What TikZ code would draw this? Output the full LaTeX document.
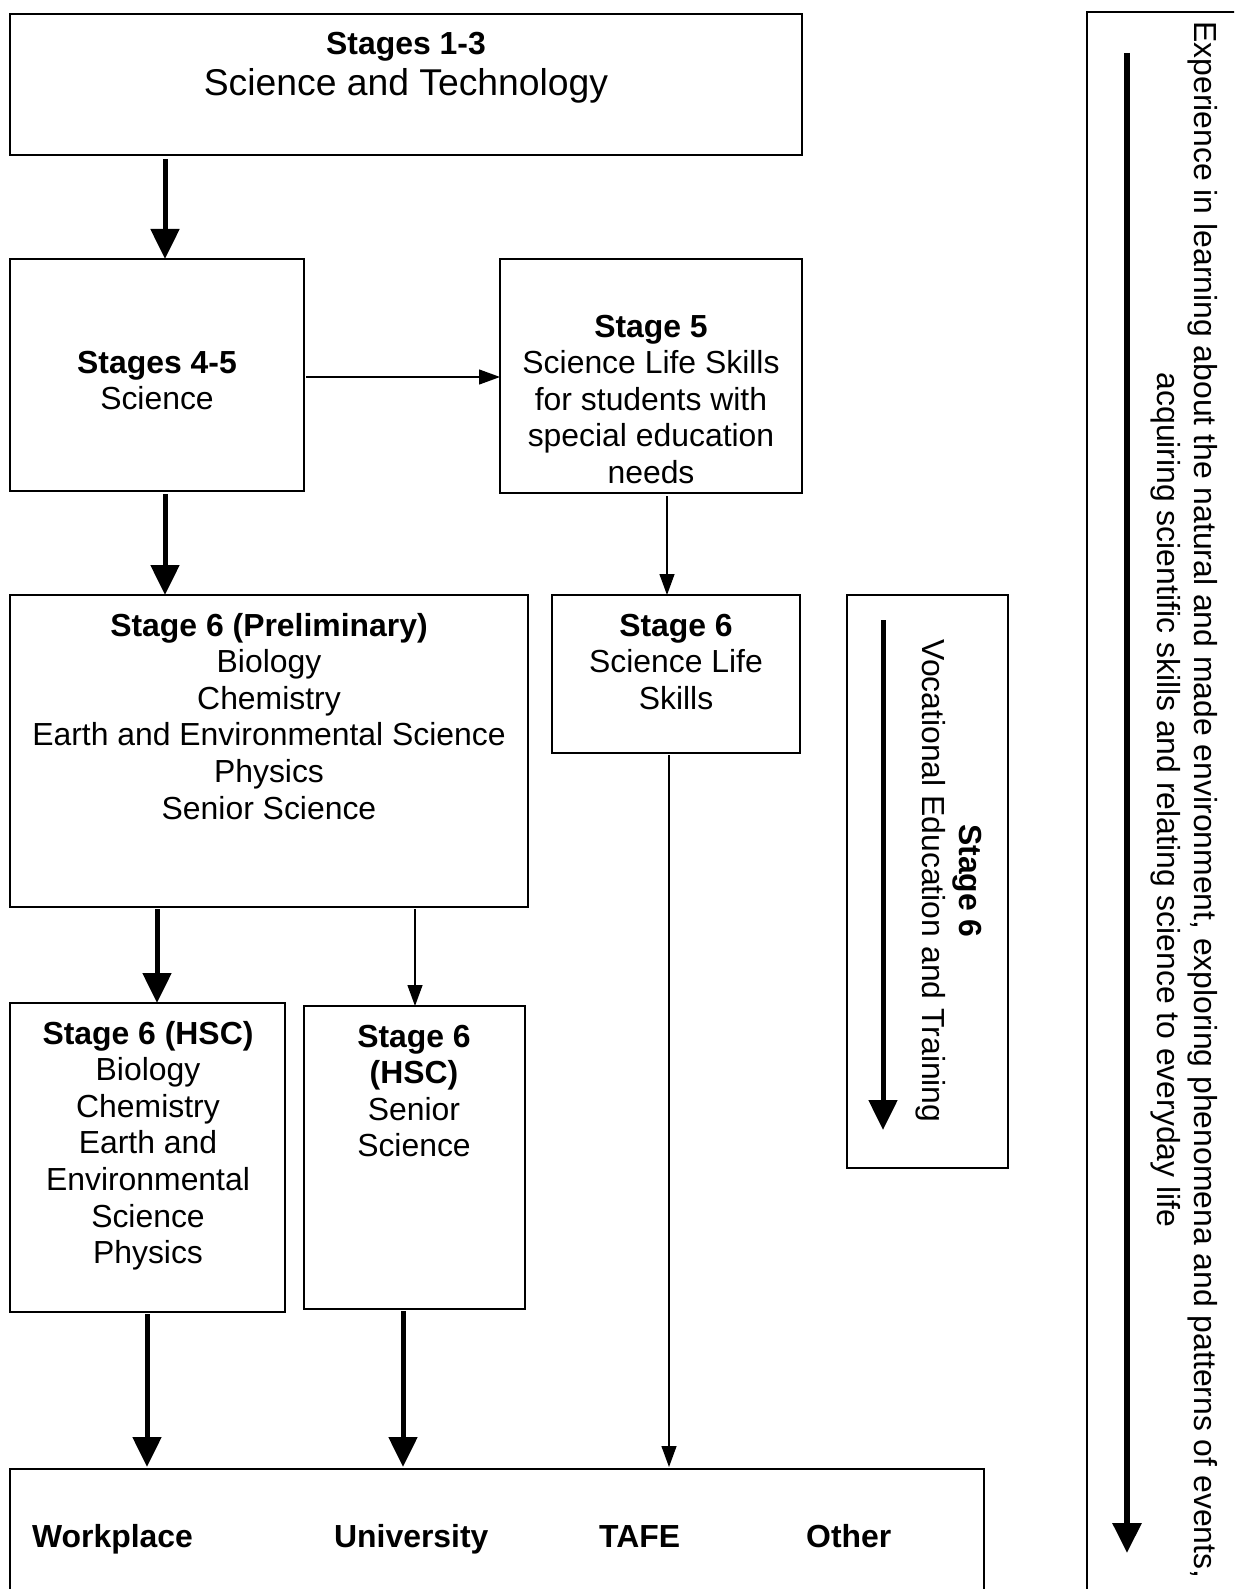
\documentclass[tikz,border=0pt]{standalone}
\usepackage{fontspec}
\setmainfont{Liberation Sans}
\usetikzlibrary{arrows.meta}
\begin{document}
\begin{tikzpicture}[x=1pt,y=-1pt,
  box/.style={draw, line width=1.5pt, inner sep=0pt, outer sep=0pt},
  txt/.style={font=\fontsize{31.9}{36.6}\selectfont, align=center, inner sep=0pt},
  bigtxt/.style={font=\fontsize{37.3}{42}\selectfont, inner sep=0pt},
  thickarrow/.style={line width=5pt, -{Triangle[length=30pt,width=28pt]}},
  thinarrow/.style={line width=1.3pt, -{Triangle[length=21pt,width=15pt]}}]
\clip (0,0) rectangle (1234,1589);
\fill[white] (0,0) rectangle (1234,1589);

% boxes
\node[box, minimum width=792pt, minimum height=141pt] (b13) at (406,84.5) {};
\node[box, minimum width=294pt, minimum height=232pt] (b45) at (157,375) {};
\node[box, minimum width=302pt, minimum height=234pt] (b5) at (651,376) {};
\node[box, minimum width=518pt, minimum height=312pt] (bpre) at (269,751) {};
\node[box, minimum width=248pt, minimum height=158pt] (bsls) at (676,674) {};
\node[box, minimum width=161pt, minimum height=573pt] (bvet) at (927.5,881.5) {};
\node[box, minimum width=275pt, minimum height=309pt] (bhsc) at (147.5,1157.5) {};
\node[box, minimum width=221pt, minimum height=303pt] (bhss) at (414.5,1157.5) {};
\node[box, minimum width=974pt, minimum height=151pt] (bdest) at (497,1544.5) {};
\node[box, minimum width=173pt, minimum height=1608pt] (bexp) at (1173.5,816) {};

% texts (base anchor = baseline of last line)
\node[txt, anchor=base] (t13a) at (406,55) {\textbf{Stages 1-3}};
\node[bigtxt, anchor=base] (t13b) at (406,96) {Science and Technology};
\node[txt, anchor=base] (t45) at (157,409.6) {\textbf{Stages 4-5}\\Science};
\node[txt, anchor=base] (t5) at (651,483.4) {\textbf{Stage 5}\\Science Life Skills\\for students with\\special education\\needs};
\node[txt, anchor=base] (tpre) at (269,819) {\textbf{Stage 6 (Preliminary)}\\Biology\\Chemistry\\Earth and Environmental Science\\Physics\\Senior Science};
\node[txt, anchor=base] (tsls) at (676,709.2) {\textbf{Stage 6}\\Science Life\\Skills};
\node[txt, anchor=base] (thsc) at (148,1263.6) {\textbf{Stage 6 (HSC)}\\Biology\\Chemistry\\Earth and\\Environmental\\Science\\Physics};
\node[txt, anchor=base] (thss) at (414,1156.8) {\textbf{Stage 6}\\\textbf{(HSC)}\\Senior\\Science};
\node[txt, anchor=base west] (tw) at (32,1547) {\textbf{Workplace}};
\node[txt, anchor=base west] (tu) at (334,1547) {\textbf{University}};
\node[txt, anchor=base west] (tt) at (599,1547) {\textbf{TAFE}};
\node[txt, anchor=base west] (to) at (806,1547) {\textbf{Other}};
\node[txt, rotate=-90] (tvet) at (949,881) {\textbf{Stage 6}\\Vocational Education and Training};
\node[txt, rotate=-90] (texp) at (1184,800) {Experience in learning about the natural and made environment, exploring phenomena and patterns of events,\\acquiring scientific skills and relating science to everyday life};

% connector x/y guides
\coordinate (xa) at (165,0);
\coordinate (yb) at (0,377);
\coordinate (xd) at (667,0);
\coordinate (xe) at (157,0);
\coordinate (xf) at (415,0);
\coordinate (xg) at (147,0);
\coordinate (xh) at (403,0);
\coordinate (xi) at (669,0);
\coordinate (v1) at (883,620);
\coordinate (v2) at (883,1130);
\coordinate (e1) at (1127,53);
\coordinate (e2) at (1127,1553);

\draw[thickarrow, shorten <=4pt] (b13.south -| xa) -- (b45.north -| xa);
\draw[thinarrow, shorten <=2pt] (b45.east |- yb) -- (b5.west |- yb);
\draw[thickarrow, shorten <=3pt] (b45.south -| xa) -- (bpre.north -| xa);
\draw[thinarrow, shorten <=3pt] (b5.south -| xd) -- (bsls.north -| xd);
\draw[thickarrow, shorten <=2pt] (bpre.south -| xe) -- (bhsc.north -| xe);
\draw[thinarrow, shorten <=2pt] (bpre.south -| xf) -- (bhss.north -| xf);
\draw[thickarrow, shorten <=2pt, shorten >=2pt] (bhsc.south -| xg) -- (bdest.north -| xg);
\draw[thickarrow, shorten <=2pt, shorten >=2pt] (bhss.south -| xh) -- (bdest.north -| xh);
\draw[thinarrow, shorten <=2pt, shorten >=2pt] (bsls.south -| xi) -- (bdest.north -| xi);
\draw[thickarrow] (v1) -- (v2);
\draw[thickarrow, line width=6pt] (e1) -- (e2);
\end{tikzpicture}
\end{document}
